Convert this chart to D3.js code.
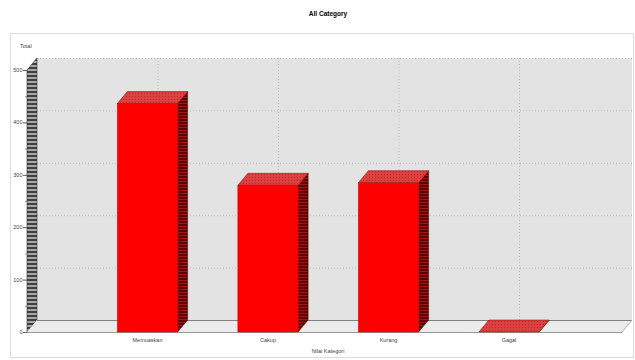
<!DOCTYPE html>
<html><head><meta charset="utf-8">
<script src="https://cdn.jsdelivr.net/npm/d3@7/dist/d3.min.js"></script>
<style>body{margin:0;background:#fff}svg{display:block;font-family:"Liberation Sans",Arial,sans-serif}</style>
</head><body>
<script>
const categories = ["Memuaskan", "Cakup", "Kurang", "Gagal"];
const values = [436, 280, 285, 0];
const yTicks = [0, 100, 200, 300, 400, 500];
const minorTicks = [50, 150, 250, 350, 450];
const title = "All Category";
const yTitle = "Total";
const xTitle = "Nilai Kategori";

const W = 635, H = 360;
const DX = 10, DY = -12;
const svg = d3.select("body").append("svg").attr("width", W).attr("height", H);
const defs = svg.append("defs");

// patterns
const pw = defs.append("pattern").attr("id", "wall").attr("patternUnits", "userSpaceOnUse").attr("width", 4).attr("height", 4);
pw.append("rect").attr("width", 4).attr("height", 4).attr("fill", "#404040");
pw.append("rect").attr("x", 0).attr("y", 1).attr("width", 4).attr("height", 2).attr("fill", "#a8a8a8");
const ps = defs.append("pattern").attr("id", "side").attr("patternUnits", "userSpaceOnUse").attr("width", 3).attr("height", 3);
ps.append("rect").attr("width", 3).attr("height", 3).attr("fill", "#600000");
ps.append("rect").attr("y", 1).attr("width", 3).attr("height", 1).attr("fill", "#a31515");
const pt = defs.append("pattern").attr("id", "top").attr("patternUnits", "userSpaceOnUse").attr("width", 3).attr("height", 3);
pt.append("rect").attr("width", 3).attr("height", 3).attr("fill", "#dc4040");
pt.append("rect").attr("width", 1).attr("height", 1).attr("fill", "#c02828");

// title
svg.append("text").attr("x", 328).attr("y", 16).attr("text-anchor", "middle")
  .attr("font-size", 6.5).attr("font-weight", "bold").attr("fill", "#000").text(title);

// panel
svg.append("rect").attr("x", 10.5).attr("y", 33.5).attr("width", 623).attr("height", 324)
  .attr("fill", "#fff").attr("stroke", "#dcdcdc");

svg.append("text").attr("x", 20).attr("y", 48).attr("font-size", 5.5).attr("fill", "#444").text(yTitle);

const y = d3.scaleLinear().domain([0, 500]).range([332, 70]);
const x = d3.scaleBand().domain(categories).range([27, 629.5]).paddingInner(0.5).paddingOuter(0.75);

const x0 = 27, x1 = 622;
// back plane
svg.append("rect").attr("x", x0 + DX).attr("y", y(500) + DY).attr("width", x1 - x0).attr("height", y(0) - y(500))
  .attr("fill", "#e3e3e3");

// horizontal gridlines
svg.append("g").selectAll("line").data(yTicks.filter(d => d > 0)).join("line")
  .attr("x1", x0 + DX).attr("x2", x1 + DX)
  .attr("y1", d => y(d) + DY + 0.5).attr("y2", d => y(d) + DY + 0.5)
  .attr("stroke", "#a8a8a8").attr("stroke-width", 0.7).attr("stroke-dasharray", "1,2");
// vertical gridlines
svg.append("g").selectAll("line").data(categories).join("line")
  .attr("x1", d => x(d) + x.bandwidth() / 2 + DX + 0.5).attr("x2", d => x(d) + x.bandwidth() / 2 + DX + 0.5)
  .attr("y1", y(500) + DY).attr("y2", y(0) + DY)
  .attr("stroke", "#a8a8a8").attr("stroke-width", 0.7).attr("stroke-dasharray", "1,2");

// left wall
svg.append("polygon")
  .attr("points", [[x0, y(0)], [x0 + DX, y(0) + DY], [x0 + DX, y(500) + DY], [x0, y(500)]].join(" "))
  .attr("fill", "url(#wall)").attr("stroke", "#333").attr("stroke-width", 0.6);

// floor
svg.append("polygon")
  .attr("points", [[x0, y(0)], [x0 + DX, y(0) + DY], [x1 + DX, y(0) + DY], [x1, y(0)]].join(" "))
  .attr("fill", "#ebebeb");
svg.append("line").attr("x1", x0 + DX).attr("x2", x1 + DX).attr("y1", y(0) + DY + 0.5).attr("y2", y(0) + DY + 0.5)
  .attr("stroke", "#808080").attr("stroke-width", 1);
svg.append("line").attr("x1", x0).attr("x2", x1).attr("y1", y(0) + 0.5).attr("y2", y(0) + 0.5)
  .attr("stroke", "#9a9a9a").attr("stroke-width", 1);
svg.append("line").attr("x1", x1).attr("x2", x1 + DX).attr("y1", y(0)).attr("y2", y(0) + DY)
  .attr("stroke", "#9a9a9a").attr("stroke-width", 0.8);

// y axis ticks
const ax = svg.append("g");
ax.selectAll(".maj").data(yTicks).join("line").attr("class", "maj")
  .attr("x1", x0 - 4).attr("x2", x0).attr("y1", d => y(d) + 0.5).attr("y2", d => y(d) + 0.5)
  .attr("stroke", "#333").attr("stroke-width", 0.8);
ax.selectAll(".min").data(minorTicks).join("line").attr("class", "min")
  .attr("x1", x0 - 2).attr("x2", x0).attr("y1", d => y(d) + 0.5).attr("y2", d => y(d) + 0.5)
  .attr("stroke", "#555").attr("stroke-width", 0.6);
ax.selectAll("text").data(yTicks).join("text")
  .attr("x", x0 - 4.5).attr("y", d => y(d) + 2).attr("text-anchor", "end")
  .attr("font-size", 5.5).attr("fill", "#444").text(d => d);

// bars
const bars = svg.append("g").selectAll("g").data(categories).join("g");
const bx = d => x(d), bw = x.bandwidth();
const by = (d, i) => y(values[i]);
bars.append("polygon").attr("points", (d, i) => {
  const a = bx(d) + bw, t = by(d, i), b = y(0);
  return [[a, t], [a + DX, t + DY], [a + DX, b + DY], [a, b]].join(" ");
}).attr("fill", "url(#side)").attr("stroke", "#4a0000").attr("stroke-width", 0.5);
bars.append("rect").attr("x", bx).attr("y", (d, i) => by(d, i)).attr("width", bw)
  .attr("height", (d, i) => y(0) - by(d, i)).attr("fill", "#ff0000").attr("stroke", "#c00000").attr("stroke-width", 0.5);
bars.append("polygon").attr("points", (d, i) => {
  const a = bx(d), t = by(d, i);
  return [[a, t], [a + bw, t], [a + bw + DX, t + DY], [a + DX, t + DY]].join(" ");
}).attr("fill", "url(#top)").attr("stroke", "#8a0000").attr("stroke-width", 0.5);

// category labels
svg.append("g").selectAll("text").data(categories).join("text")
  .attr("x", d => x(d) + bw / 2).attr("y", 342).attr("text-anchor", "middle")
  .attr("font-size", 5.5).attr("fill", "#444").text(d => d);
svg.append("text").attr("x", 328).attr("y", 353).attr("text-anchor", "middle")
  .attr("font-size", 5.5).attr("fill", "#444").text(xTitle);
</script>
</body></html>
